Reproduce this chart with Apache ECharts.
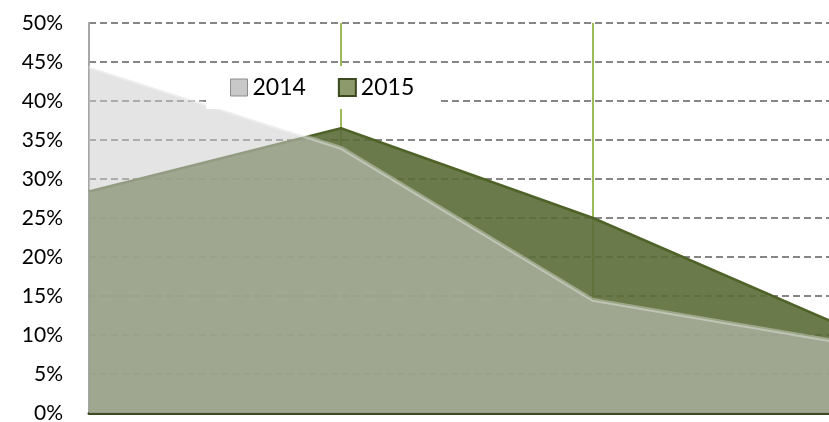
<!DOCTYPE html>
<html lang="en">
<head>
<meta charset="utf-8" />
<title>2014 / 2015</title>
<script type="text/javascript" src="https://cdn.jsdelivr.net/npm/echarts@6/dist/echarts.min.js"></script>
<style>
  html, body { margin: 0; padding: 0; background: #fff; }
  #chart { width: 829px; height: 422px; }
</style>
</head>
<body>
<div id="chart"></div>
<script type="text/javascript">
// data (percent)
var categories = ['1', '2', '3', '4'];
var values2014 = [44.4, 34.0, 14.5, 9.0];
var values2015 = [28.4, 36.5, 25.0, 11.0];
var yTicks = { min: 0, max: 50, step: 5 };
var dropIdx = [1, 2];   // the two green vertical lines

var chart = echarts.init(document.getElementById('chart'));

var drops = dropIdx.map(function (i) {
    return [
        { coord: [i, yTicks.max] },
        { coord: [i, values2014[i]] }
    ];
});

var option = {
    animation: false,
    backgroundColor: '#fff',
    // plot runs past the right edge of the picture (last point is cut off)
    grid: { left: 89, top: 23, bottom: 9, width: 756, outerBoundsMode: 'none', containLabel: false },
    legend: {
        left: 206, top: 66,
        padding: [10, 24, 10, 24],
        backgroundColor: '#fff',
        itemWidth: 17, itemHeight: 17, itemGap: 32,
        textStyle: { fontFamily: 'Lato', fontSize: 23, color: '#000' },
        data: [
            { name: '2014', icon: 'rect', itemStyle: { color: '#c8c8c8', borderColor: '#8c8c8c', borderWidth: 1, opacity: 1 } },
            { name: '2015', icon: 'rect', itemStyle: { color: '#8c9a6c', borderColor: '#3b4a1e', borderWidth: 2, opacity: 1 } }
        ]
    },
    xAxis: {
        type: 'category',
        data: categories,
        boundaryGap: false,
        axisLine: { lineStyle: { color: '#3d4a22', width: 3 } },
        axisTick: { show: false },
        axisLabel: { show: false },
        splitLine: { show: false }
    },
    yAxis: {
        type: 'value',
        min: yTicks.min, max: yTicks.max, interval: yTicks.step,
        axisLine: { show: true, lineStyle: { color: '#a6a6a6', width: 2 } },
        axisTick: { show: false },
        axisLabel: {
            formatter: '{value}%', margin: 26,
            fontFamily: 'Lato', fontSize: 21, color: '#000'
        },
        splitLine: { lineStyle: { color: '#868686', width: 2, type: [7, 4] } }
    },
    series: [
        {
            name: '2015',
            type: 'line',
            z: 2,
            data: values2015,
            symbol: 'none',
            lineStyle: { color: '#4f6228', width: 2.5 },
            itemStyle: { color: '#6b7a4b' },
            areaStyle: { color: '#5a6b37', opacity: 0.9 },
            markLine: {
                z: 2,
                silent: true,
                symbol: ['none', 'none'],
                label: { show: false },
                lineStyle: { color: '#9bbb59', width: 2, type: 'solid' },
                data: drops
            }
        },
        {
            name: '2014',
            type: 'line',
            z: 3,
            data: values2014,
            symbol: 'none',
            lineStyle: { color: 'rgba(255,255,255,0.35)', width: 4 },
            itemStyle: { color: '#cdcdcd' },
            areaStyle: { color: '#cdcdcd', opacity: 0.54 }
        }
    ]
};

chart.setOption(option);
</script>
</body>
</html>
